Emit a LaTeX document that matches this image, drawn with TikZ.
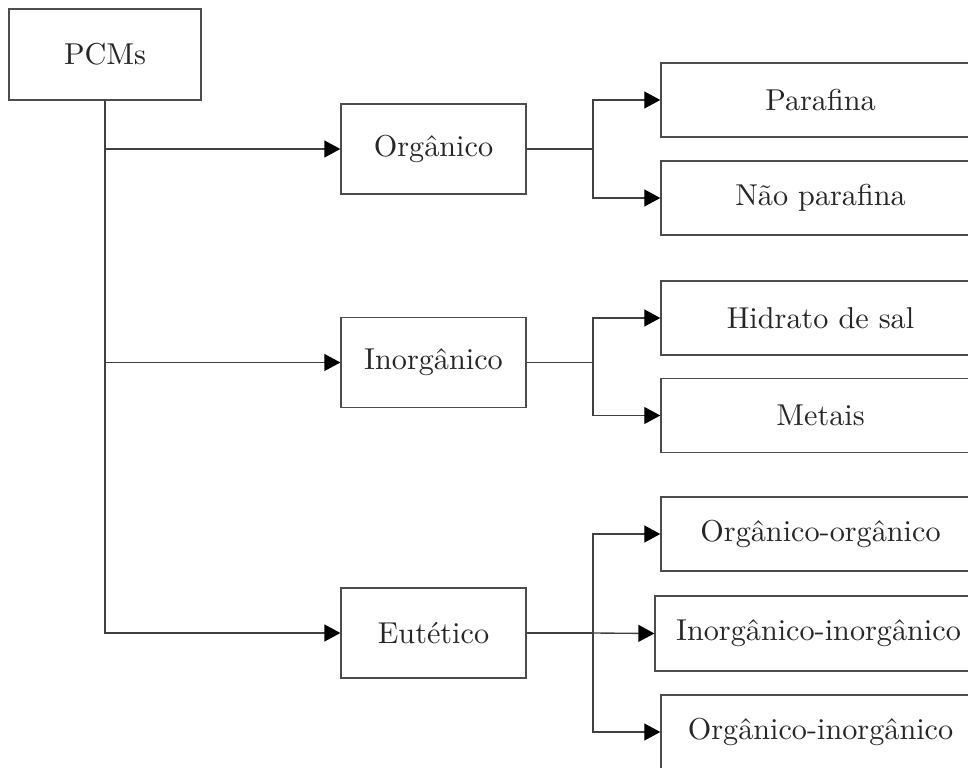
\documentclass[tikz,border=0pt]{standalone}
\usetikzlibrary{arrows.meta}
\begin{document}
\begin{tikzpicture}[x=0.331pt,y=-0.331pt,
  box/.style={draw=black!70, line width=0.45pt, rectangle, inner sep=0pt, font=\normalsize, text=black!85},
  rootbox/.style={box, minimum width=63.6pt, minimum height=30.1pt},
  midbox/.style={box, minimum width=61.2pt, minimum height=29.8pt},
  leafbox/.style={box, minimum width=105.6pt, minimum height=24.5pt},
  wideleaf/.style={box, minimum width=108.2pt, minimum height=24.8pt},
  link/.style={draw=black!75, line width=0.45pt},
  arr/.style={link, -{Triangle[length=5.3pt,width=5.6pt,black]}}]
\useasboundingbox (0,0) rectangle (968,767);
\clip (0,0) rectangle (968,767);

% root and the three classes
\node[rootbox] (pcm) at (105,54.5) {PCMs};
\node[midbox] (org) at (433.5,149) {Orgânico};
\node[midbox] (inorg) at (433.5,362.5) {Inorgânico};
\node[midbox] (eut) at (433.5,633) {Eutético};

% sub-classes
\node[leafbox] (par) at (820.5,100) {Parafina};
\node[leafbox] (npar) at (820.5,198) {Não parafina};
\node[leafbox] (hid) at (820.5,318) {Hidrato de sal};
\node[leafbox] (met) at (820.5,415.5) {Metais};
\node[leafbox] (oo) at (820.5,534) {Orgânico-orgânico};
\node[wideleaf] (ii) at (818.5,633.5) {Inorgânico-inorgânico};
\node[leafbox] (oi) at (820.5,732) {Orgânico-inorgânico};

% trunk from the root
\draw[arr] (pcm.south) |- (org.west);
\draw[arr] (pcm.south) |- (inorg.west);
\draw[arr] (pcm.south) |- (eut.west);

% branch points
\coordinate (bo) at (593,149);
\coordinate (bi) at (593,362.5);
\coordinate (be) at (593,633);

\draw[link] (org.east) -- (bo);
\draw[arr] (bo) |- (par.west);
\draw[arr] (bo) |- (npar.west);

\draw[link] (inorg.east) -- (bi);
\draw[arr] (bi) |- (hid.west);
\draw[arr] (bi) |- (met.west);

\draw[link] (eut.east) -- (be);
\draw[arr] (be) |- (oo.west);
\draw[arr] (be) -- (ii.west);
\draw[arr] (be) |- (oi.west);
\end{tikzpicture}
\end{document}
